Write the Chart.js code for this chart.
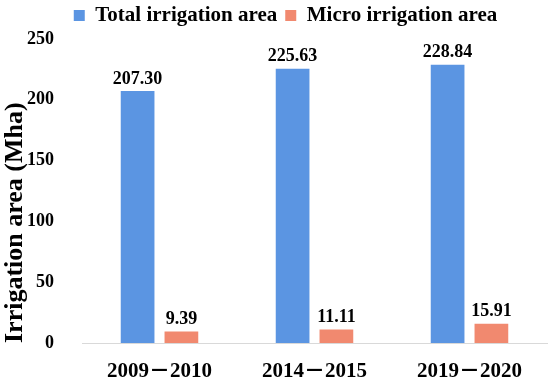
<!DOCTYPE html>
<html>
<head>
<meta charset="utf-8">
<script src="https://cdn.jsdelivr.net/npm/chart.js@4"></script>
<style>
  html, body { margin: 0; padding: 0; background: #fff; }
  #wrap { width: 550px; height: 383px; }
</style>
</head>
<body>
<div id="wrap"><canvas id="irrChart"></canvas></div>
<script>
// Chart data
const periods = ['2009\uFF0D2010', '2014\uFF0D2015', '2019\uFF0D2020'];
const totalArea = [207.30, 225.63, 228.84];
const microArea = [9.39, 11.11, 15.91];
const yTicks = [0, 50, 100, 150, 200, 250];

const serif = "'Liberation Serif', 'Times New Roman', 'Noto Sans CJK SC', serif";

// draws the value above each bar
const valueLabels = {
  id: 'valueLabels',
  afterDatasetsDraw(chart) {
    const ctx = chart.ctx;
    ctx.save();
    ctx.font = 'bold 18px ' + serif;
    ctx.fillStyle = '#000';
    ctx.textAlign = 'center';
    ctx.textBaseline = 'bottom';
    chart.data.datasets.forEach((ds, i) => {
      chart.getDatasetMeta(i).data.forEach((bar, j) => {
        ctx.fillText(ds.data[j].toFixed(2), bar.x, bar.y - 3);
      });
    });
    ctx.restore();
  }
};

// nudge the legend a little, like the original figure
const legendShift = {
  id: 'legendShift',
  afterLayout(chart) {
    const lg = chart.legend;
    lg.left += 12; lg.right += 12;
    lg.top -= 3; lg.bottom -= 3;
  }
};

new Chart(document.getElementById('irrChart'), {
  type: 'bar',
  data: {
    labels: periods,
    datasets: [
      {
        label: 'Total irrigation area',
        data: totalArea,
        backgroundColor: '#5b95e2',
        categoryPercentage: 0.565,
        barPercentage: 0.77
      },
      {
        label: 'Micro irrigation area',
        data: microArea,
        backgroundColor: '#f1896f',
        categoryPercentage: 0.565,
        barPercentage: 0.77
      }
    ]
  },
  options: {
    responsive: true,
    maintainAspectRatio: false,
    animation: false,
    layout: { padding: { left: 0, right: 3, top: 0, bottom: 0 } },
    plugins: {
      legend: {
        position: 'top',
        labels: {
          boxWidth: 11,
          boxHeight: 11,
          padding: 8,
          color: '#000',
          font: { family: serif, size: 21, weight: 'bold' }
        }
      },
      tooltip: { enabled: false }
    },
    scales: {
      y: {
        min: 0,
        max: 250,
        afterBuildTicks: axis => { axis.ticks = yTicks.map(v => ({ value: v })); },
        afterFit: axis => { axis.width = 82; },
        grid: { display: false },
        border: { display: false },
        ticks: {
          color: '#000',
          padding: 20,
          font: { family: serif, size: 18, weight: 'bold' }
        },
        title: {
          display: true,
          align: 'start',
          text: 'Irrigation area (Mha)',
          color: '#000',
          font: { family: serif, size: 26, weight: 'bold' },
          padding: { top: 0, bottom: 2 }
        }
      },
      x: {
        afterFit: axis => { axis.height = 40; },
        grid: { display: false },
        border: { color: '#d9d9d9', width: 1 },
        ticks: {
          color: '#000',
          padding: 8,
          font: { family: serif, size: 21, weight: 'bold' }
        }
      }
    }
  },
  plugins: [valueLabels, legendShift]
});
</script>
</body>
</html>
